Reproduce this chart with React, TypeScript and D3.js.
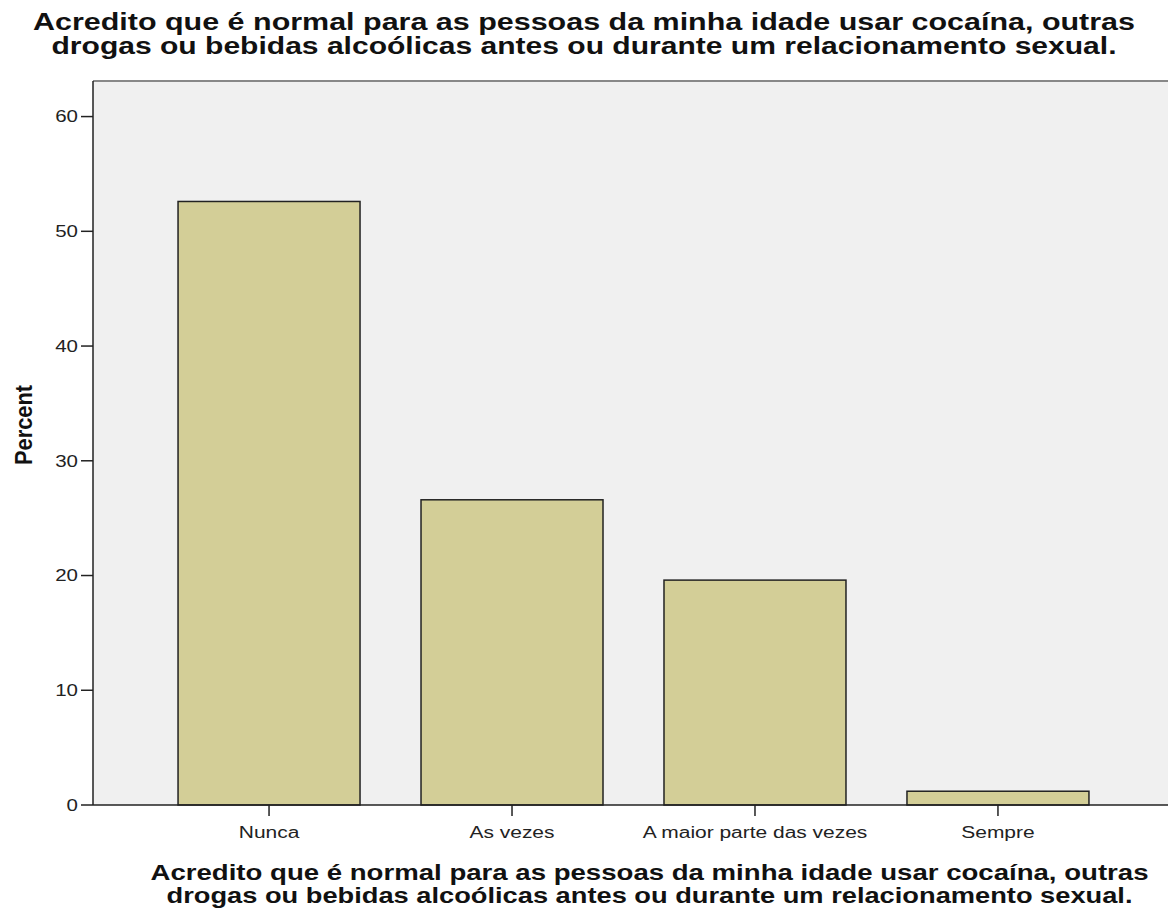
import React from "react";
import * as d3 from "d3";

const categories = ["Nunca", "As vezes", "A maior parte das vezes", "Sempre"];
const percents = [52.6, 26.6, 19.6, 1.2];
const yTicks = [0, 10, 20, 30, 40, 50, 60];
const titleLines = [
  "Acredito que é normal para as pessoas da minha idade usar cocaína, outras",
  "drogas ou bebidas alcoólicas antes ou durante um relacionamento sexual.",
];

export default function App() {
  const W = 1168, H = 920;
  const left = 93, right = 1174, top = 81, bottom = 805;
  const y = d3.scaleLinear().domain([0, 63.1]).range([bottom, top]);
  const x = d3.scaleBand<string>().domain(categories).range([left, right]).paddingInner(0.251).paddingOuter(0.35);
  const font = "'Liberation Sans', Arial, sans-serif";
  const titleW = [1102, 1065];
  const axTitleW = [998, 966];
  return (
    <svg width={W} height={H} style={{ position: "absolute", left: 0, top: 0, background: "#fff" }} fontFamily={font}>
      <rect x={left} y={top} width={right - left} height={bottom - top} fill="#F0F0F0" />
      <line x1={left} x2={W} y1={top} y2={top} stroke="#888" strokeWidth={2} />
      {categories.map((c, i) => (
        <rect key={c} x={x(c)} y={y(percents[i])} width={x.bandwidth()} height={bottom - y(percents[i])}
          fill="#D3CE97" stroke="#222" strokeWidth={1.5} />
      ))}
      <line x1={left} x2={left} y1={top} y2={bottom} stroke="#222" strokeWidth={1.5} />
      <line x1={left} x2={W} y1={bottom} y2={bottom} stroke="#222" strokeWidth={1.5} />
      {yTicks.map((t) => (
        <g key={t}>
          <line x1={left - 12} x2={left} y1={y(t)} y2={y(t)} stroke="#222" strokeWidth={1.5} />
          <text transform={`translate(${left - 15},${y(t)}) scale(1.28,1)`} dy="0.36em" textAnchor="end" fontSize={16} fill="#222">{t}</text>
        </g>
      ))}
      {categories.map((c) => {
        const cx = x(c)! + x.bandwidth() / 2;
        return (
          <g key={c}>
            <line x1={cx} x2={cx} y1={bottom} y2={bottom + 11} stroke="#222" strokeWidth={1.5} />
            <text transform={`translate(${cx},${bottom + 33}) scale(1.31,1)`} textAnchor="middle" fontSize={16} fill="#222">{c}</text>
          </g>
        );
      })}
      <text transform={`translate(32,425) rotate(-90)`} textAnchor="middle" fontSize={23} fontWeight="bold" fill="#111"
        textLength={80} lengthAdjust="spacingAndGlyphs">Percent</text>
      {titleLines.map((l, i) => (
        <text key={"t" + i} x={584} y={30 + i * 24} textAnchor="middle" fontSize={23.5} fontWeight="bold" fill="#111"
          textLength={titleW[i]} lengthAdjust="spacingAndGlyphs">{l}</text>
      ))}
      {titleLines.map((l, i) => (
        <text key={"b" + i} x={649.5} y={880 + i * 23} textAnchor="middle" fontSize={22} fontWeight="bold" fill="#111"
          textLength={axTitleW[i]} lengthAdjust="spacingAndGlyphs">{l}</text>
      ))}
    </svg>
  );
}
